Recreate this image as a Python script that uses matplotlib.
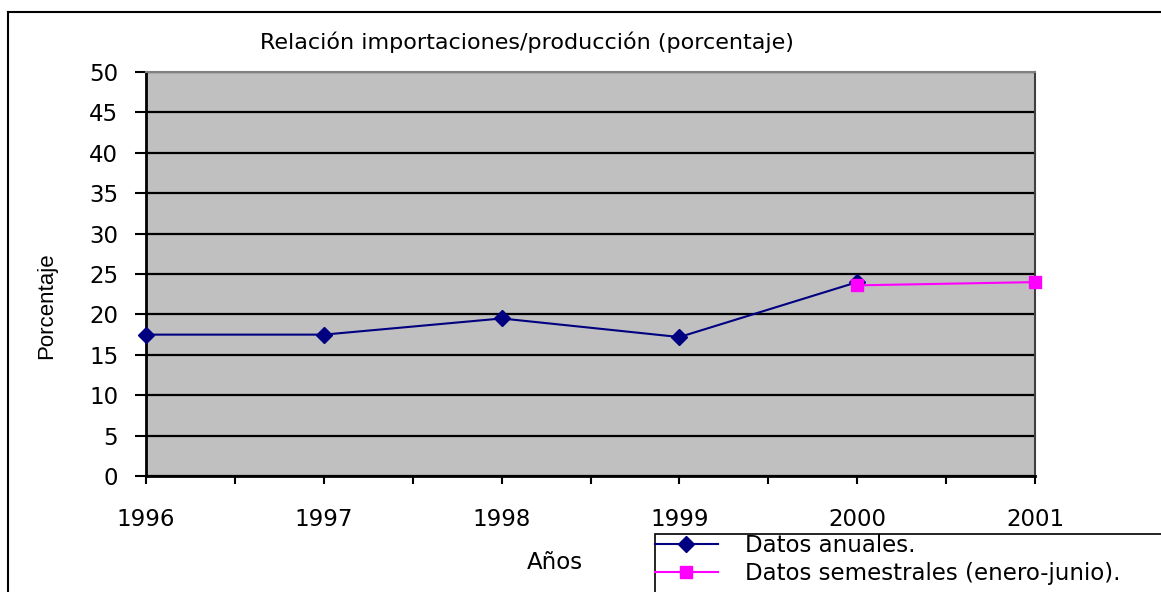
import matplotlib
matplotlib.use('Agg')
import matplotlib.pyplot as plt
from matplotlib.lines import Line2D
from matplotlib.patches import Rectangle
from matplotlib.ticker import MultipleLocator

plt.rcParams['font.family'] = ['DejaVu Sans']

# data
years_anual = [1996, 1997, 1998, 1999, 2000]
anual = [17.5, 17.5, 19.5, 17.2, 24.0]
years_sem = [2000, 2001]
semestral = [23.6, 24.0]
year_ticks = [1996, 1997, 1998, 1999, 2000, 2001]

fig = plt.figure(figsize=(11.61, 5.92), dpi=100)
ax = fig.add_axes([0.1258, 0.1959, 0.7657, 0.6824])
ax.set_facecolor('#c0c0c0')

ax.plot(years_anual, anual, color='#000080', lw=1.5, marker='D', ms=8,
        label='Datos anuales.', clip_on=False, zorder=3)
ax.plot(years_sem, semestral, color='#ff00ff', lw=1.5, marker='s', ms=9,
        label='Datos semestrales (enero-junio).', clip_on=False, zorder=4)

ax.set_xlim(1996, 2001)
ax.set_ylim(0, 50)
ax.set_xticks(year_ticks)
ax.set_xticklabels([str(y) for y in year_ticks])
ax.xaxis.set_minor_locator(MultipleLocator(0.5))
ax.yaxis.set_major_locator(MultipleLocator(5))
ax.yaxis.grid(True, color='black', lw=1.6)
ax.set_axisbelow(True)

ax.tick_params(axis='x', which='major', direction='out', length=6, width=1.5,
               pad=17, labelsize=16.5)
ax.tick_params(axis='x', which='minor', direction='out', length=6, width=1.5)
ax.tick_params(axis='y', direction='out', length=8, width=1.5, pad=12,
               labelsize=16.5)

ax.spines['left'].set_linewidth(2)
ax.spines['bottom'].set_linewidth(2)
ax.spines['right'].set_color('#404040')
ax.spines['right'].set_linewidth(1.5)
ax.spines['top'].set_color('#808080')
ax.spines['top'].set_linewidth(1.5)

fig.text(0.454, 0.929, 'Relación importaciones/producción (porcentaje)',
         ha='center', va='center', fontsize=16)
fig.text(0.0405, 0.483, 'Porcentaje', rotation=90, ha='center', va='center',
         fontsize=16, family=['Liberation Sans', 'DejaVu Sans'])
fig.text(0.478, 0.049, 'Años', ha='center', va='center', fontsize=16.5)

leg = fig.legend(loc='upper left', bbox_to_anchor=(0.564, 0.098),
                 frameon=False, fontsize=16.5, handlelength=2.75,
                 borderpad=0.0, labelspacing=0.2, handletextpad=1.2,
                 borderaxespad=0)

# legend box runs past the right and bottom edges of the picture
fig.add_artist(Rectangle((0.564, -0.1), 0.6, 0.198, transform=fig.transFigure,
                         fill=False, edgecolor='black', lw=1.2))

# outer chart border (left and top visible)
fig.add_artist(Line2D([0.0069, 0.0069], [0, 0.9797], color='black', lw=1.5,
                      transform=fig.transFigure))
fig.add_artist(Line2D([0.0069, 1.0], [0.9797, 0.9797], color='black', lw=1.5,
                      transform=fig.transFigure))

fig.savefig('out.png', dpi=100)
